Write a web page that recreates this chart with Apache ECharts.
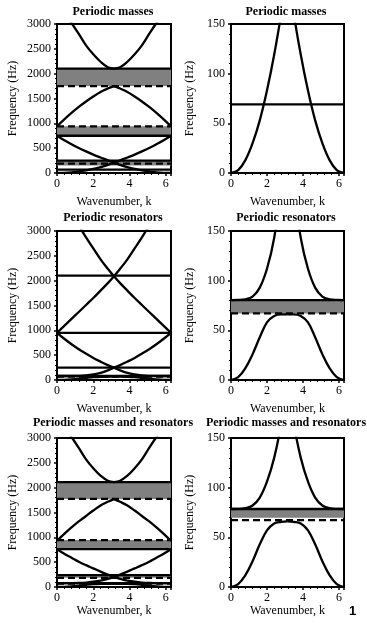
<!DOCTYPE html>
<html><head><meta charset="utf-8">
<script src="https://cdn.jsdelivr.net/npm/echarts@6/dist/echarts.min.js"></script>
<style>html,body{margin:0;padding:0;background:#fff}#c{width:367px;height:623px}</style>
</head><body><div id="c"></div>
<script>
// wavenumber sample points (0 .. 2π)
const kGrid = [0,0.4,0.8,1.2,1.6,2.0,2.4,2.8,3.1416,3.48,3.88,4.28,4.68,5.08,5.48,5.88,6.2832];
const titles = ['Periodic masses','Periodic resonators','Periodic masses and resonators'];
const xTicks = [0,2,4,6];

// Row 1: periodic masses (Hz)
const massCurve1 = [0,3,13,30,53,83,119,162,212,162,119,83,53,30,13,3,0];
const massCurve2 = [750,660,580,505,435,370,312,255,212,255,312,370,435,505,580,660,750];
const massCurve3 = [940,1080,1210,1330,1440,1540,1630,1700,1750,1700,1630,1540,1440,1330,1210,1080,940];
const massCurve4 = [3400,3220,3020,2800,2570,2390,2240,2130,2100,2130,2240,2390,2570,2800,3020,3220,3400];
const massSolid = [69,250,750,2100];
const massDashed = [190,940,1750];
const massBands = [[150,250],[750,940],[1750,2100]];

// Row 2: periodic resonators
const resCurve1 = [0,3,12,26,43,58,64.5,66,66,66,64.5,58,43,26,12,3,0];
const resCurve2 = [80.5,80.6,81.2,84,93,112,143,195,248,195,143,112,93,84,81.2,80.6,80.5];
const resCurve3 = [950,830,720,620,530,445,370,300,248,300,370,445,530,620,720,830,950];
const resCurve4 = [3800,3600,3350,3110,2870,2650,2430,2240,2090,1950,1800,1650,1510,1370,1230,1090,950];
const resCurve5 = [950,1090,1230,1370,1510,1650,1800,1950,2090,2240,2430,2650,2870,3110,3350,3600,3800];
const resSolid = [80.5,250,950,2100];
const resDashed = [67];
const resBands = [[67,80.5]];

// Row 3: periodic masses and resonators
const bothCurve1 = [0,3,12,26,43,57,64,65.5,66,65.5,64,57,43,26,12,3,0];
const bothCurve2 = [78.5,78.6,79.3,82,90,106,130,165,205,165,130,106,90,82,79.3,78.6,78.5];
const bothCurve3 = [760,670,590,510,440,375,310,250,205,250,310,375,440,510,590,670,760];
const bothCurve4 = [930,1070,1200,1320,1430,1540,1640,1715,1770,1715,1640,1540,1430,1320,1200,1070,930];
const bothCurve5 = [3400,3220,3020,2800,2570,2390,2240,2140,2110,2140,2240,2390,2570,2800,3020,3220,3400];
const bothSolid = [78.5,240,762,2110];
const bothDashed = [67.4,185,944,1773];
const bothBands = [[69.8,78.5],[185,240],[762,944],[1773,2110]];

const rows = [
  {curves:[massCurve1,massCurve2,massCurve3,massCurve4], solid:massSolid, dashed:massDashed, bands:massBands},
  {curves:[resCurve1,resCurve2,resCurve3,resCurve4,resCurve5], solid:resSolid, dashed:resDashed, bands:resBands},
  {curves:[bothCurve1,bothCurve2,bothCurve3,bothCurve4,bothCurve5], solid:bothSolid, dashed:bothDashed, bands:bothBands}
];

const FONT = 'Liberation Serif';
const KMAX = 2*Math.PI;
const rowTop = [24,231,438];
const rowTitleTop = [6,212,417];
const nameGapX = [23,23,14];
const colLeft = [57,231], colWidth = [114,113], colCenter = [113,286];
const yMax = [3000,150], yInt = [500,50], yNameGap = [38,35];

const grids=[], xAxes=[], yAxes=[], series=[], title=[];
let gi=0;
for (let r=0;r<3;r++){
  for (let c=0;c<2;c++){
    grids.push({left:colLeft[c], top:rowTop[r], width:colWidth[c], height:149, show:true, borderColor:'#000', borderWidth:2, containLabel:false});
    title.push({text:titles[r], left:colCenter[c], top:rowTitleTop[r], textAlign:'center', padding:0,
      textStyle:{fontFamily:FONT, fontWeight:'bold', fontSize:12, color:'#000'}});
    xAxes.push({type:'value', gridIndex:gi, min:0, max:KMAX, interval:2,
      name:'Wavenumber, k', nameLocation:'middle', nameGap:nameGapX[r],
      nameTextStyle:{fontFamily:FONT, fontSize:12, color:'#000'},
      axisLine:{show:true, lineStyle:{color:'#000', width:2}},
      axisTick:{show:true, length:3, lineStyle:{color:'#000', width:1.5}},
      minorTick:{show:true, splitNumber:5, length:2, lineStyle:{color:'#000', width:1}},
      splitLine:{show:false}, minorSplitLine:{show:false},
      axisLabel:{fontFamily:FONT, fontSize:12, color:'#000', margin:5,
        formatter:v=> (xTicks.indexOf(Math.round(v*1000)/1000)>=0 ? String(v) : '')}
    });
    yAxes.push({type:'value', gridIndex:gi, min:0, max:yMax[c], interval:yInt[c],
      name:'Frequency (Hz)', nameLocation:'middle', nameGap:yNameGap[c],
      nameTextStyle:{fontFamily:FONT, fontSize:12, color:'#000'},
      axisLine:{show:true, lineStyle:{color:'#000', width:2}},
      axisTick:{show:true, length:3, lineStyle:{color:'#000', width:1.5}},
      minorTick:{show:true, splitNumber:5, length:2, lineStyle:{color:'#000', width:1}},
      splitLine:{show:false}, minorSplitLine:{show:false},
      axisLabel:{fontFamily:FONT, fontSize:12, color:'#000', margin:6, formatter:v=>String(v)}
    });
    const row = rows[r];
    row.bands.forEach(b=>{
      series.push({type:'line', xAxisIndex:gi, yAxisIndex:gi, z:1, silent:true, symbol:'none',
        data:[[0,b[1]],[KMAX,b[1]]], lineStyle:{width:0}, areaStyle:{color:'#808080', opacity:1, origin:b[0]}});
    });
    row.solid.forEach(v=>{
      series.push({type:'line', xAxisIndex:gi, yAxisIndex:gi, z:2, silent:true, symbol:'none',
        data:[[0,v],[KMAX,v]], lineStyle:{color:'#000', width:2.3}});
    });
    row.dashed.forEach(v=>{
      series.push({type:'line', xAxisIndex:gi, yAxisIndex:gi, z:2, silent:true, symbol:'none',
        data:[[0,v],[KMAX,v]], lineStyle:{color:'#000', width:2.3, type:[7,4]}});
    });
    row.curves.forEach(vals=>{
      const L=[],R=[];
      for(let i=0;i<=8;i++) L.push([kGrid[i],vals[i]]);
      for(let i=8;i<kGrid.length;i++) R.push([kGrid[i],vals[i]]);
      [L,R].forEach(d=>series.push({type:'line', xAxisIndex:gi, yAxisIndex:gi, z:3, silent:true,
        symbol:'none', smooth:0.4, data:d, lineStyle:{color:'#000', width:2.3}}));
    });
    gi++;
  }
}
title.push({text:'1', left:349, top:605, padding:0, textStyle:{fontFamily:'Liberation Sans', fontWeight:'bold', fontSize:13, color:'#000'}});

const chart = echarts.init(document.getElementById('c'), null, {renderer:'canvas'});
chart.setOption({animation:false, backgroundColor:'#fff', title, grid:grids, xAxis:xAxes, yAxis:yAxes, series});
</script></body></html>
